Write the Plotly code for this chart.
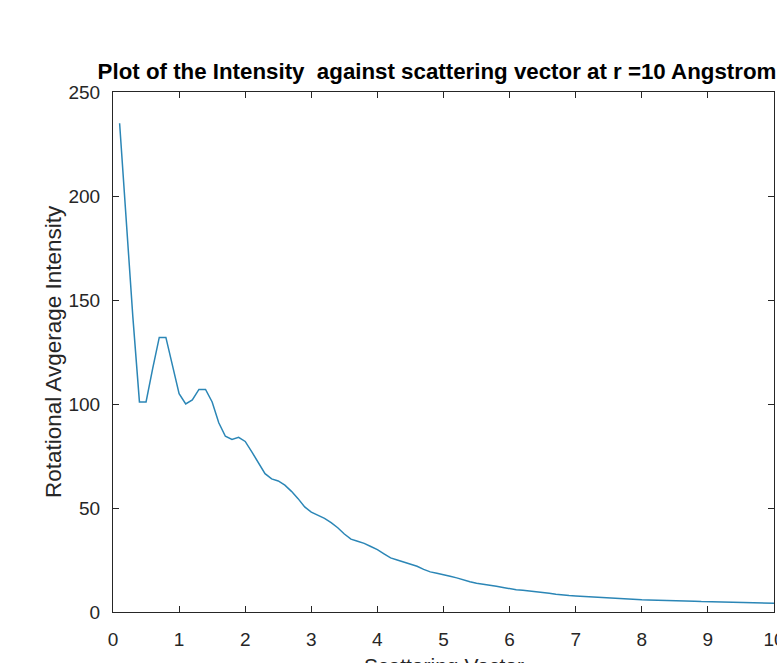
import plotly.graph_objects as go

scattering_vector = [
    0.1, 0.2, 0.3, 0.4, 0.5, 0.6, 0.7, 0.8, 0.9, 1.0,
    1.1, 1.2, 1.3, 1.4, 1.5, 1.6, 1.7, 1.8, 1.9, 2.0,
    2.1, 2.2, 2.3, 2.4, 2.5, 2.6, 2.7, 2.8, 2.9, 3.0,
    3.1, 3.2, 3.3, 3.4, 3.5, 3.6, 3.7, 3.8, 3.9, 4.0,
    4.1, 4.2, 4.3, 4.4, 4.5, 4.6, 4.7, 4.8, 4.9, 5.0,
    5.1, 5.2, 5.3, 5.4, 5.5, 5.6, 5.7, 5.8, 5.9, 6.0,
    6.1, 6.2, 6.3, 6.4, 6.5, 6.6, 6.7, 6.8, 6.9, 7.0,
    7.1, 7.2, 7.3, 7.4, 7.5, 7.6, 7.7, 7.8, 7.9, 8.0,
    8.1, 8.2, 8.3, 8.4, 8.5, 8.6, 8.7, 8.8, 8.9, 9.0,
    9.1, 9.2, 9.3, 9.4, 9.5, 9.6, 9.7, 9.8, 9.9, 10.0,
]

intensity = [
    235, 188, 142, 101, 101, 117, 132, 132, 118, 105,
    100, 102, 107, 107, 101, 91, 84.5, 83, 84, 82,
    77, 72, 66.5, 64, 63, 61, 58, 54.5, 50.5, 48,
    46.5, 45, 43, 40.5, 37.5, 35, 34, 33, 31.5, 30,
    28, 26, 25, 24, 23, 22, 20.5, 19.3, 18.6, 18,
    17.2, 16.4, 15.4, 14.5, 13.8, 13.4, 12.9, 12.4, 11.8, 11.1,
    10.7, 10.4, 10.1, 9.8, 9.4, 9.0, 8.5, 8.1, 7.9, 7.7,
    7.5, 7.3, 7.0, 6.8, 6.6, 6.5, 6.4, 6.2, 6.0, 5.9,
    5.8, 5.75, 5.65, 5.5, 5.4, 5.3, 5.2, 5.15, 5.0, 4.9,
    4.8, 4.75, 4.7, 4.6, 4.5, 4.45, 4.4, 4.3, 4.25, 4.2,
]

x_ticks = [0, 1, 2, 3, 4, 5, 6, 7, 8, 9, 10]
y_ticks = [0, 50, 100, 150, 200, 250]

title_text = "Plot of the Intensity  against scattering vector at r =10 Angstrom"
x_label = "Scattering Vector"
y_label = "Rotational Avgerage Intensity"

FONT = "Liberation Sans, Arial, Helvetica, sans-serif"
AX = "#262626"

fig = go.Figure()
fig.add_trace(go.Scatter(
    x=scattering_vector, y=intensity, mode="lines",
    line=dict(color="#2b86b6", width=1.5),
    showlegend=False,
))

axis_common = dict(
    showgrid=False, zeroline=False, automargin=False,
    showline=True, linecolor=AX, linewidth=1.2,
    mirror="ticks", ticks="inside", ticklen=6, tickwidth=1, tickcolor=AX,
    tickfont=dict(family=FONT, size=19, color=AX),
    ticklabeloverflow="allow",
)

fig.update_layout(
    width=777, height=663,
    margin=dict(l=113, r=3, t=92, b=51, autoexpand=False),
    paper_bgcolor="white", plot_bgcolor="white",
    title=dict(
        text="<b>" + title_text + "</b>",
        font=dict(family=FONT, size=22.3, color="black"),
        x=(437 - 113) / 661, xref="paper", xanchor="center",
        y=1 - 71 / 663, yref="container", yanchor="middle",
    ),
    xaxis=dict(range=[0, 10], tickvals=x_ticks, ticklabelstandoff=10, **axis_common),
    yaxis=dict(range=[0, 250], tickvals=y_ticks, ticklabelstandoff=8, **axis_common),
    annotations=[
        dict(text=y_label, textangle=-90, xref="paper", yref="paper",
             x=-60 / 661, y=0.5, xanchor="center", yanchor="middle",
             showarrow=False, font=dict(family=FONT, size=22.5, color=AX)),
        dict(text=x_label, xref="paper", yref="paper",
             x=0.5, y=-53 / 520, xanchor="center", yanchor="middle",
             showarrow=False, font=dict(family=FONT, size=21, color=AX)),
    ],
)

fig.write_html("out.html")
